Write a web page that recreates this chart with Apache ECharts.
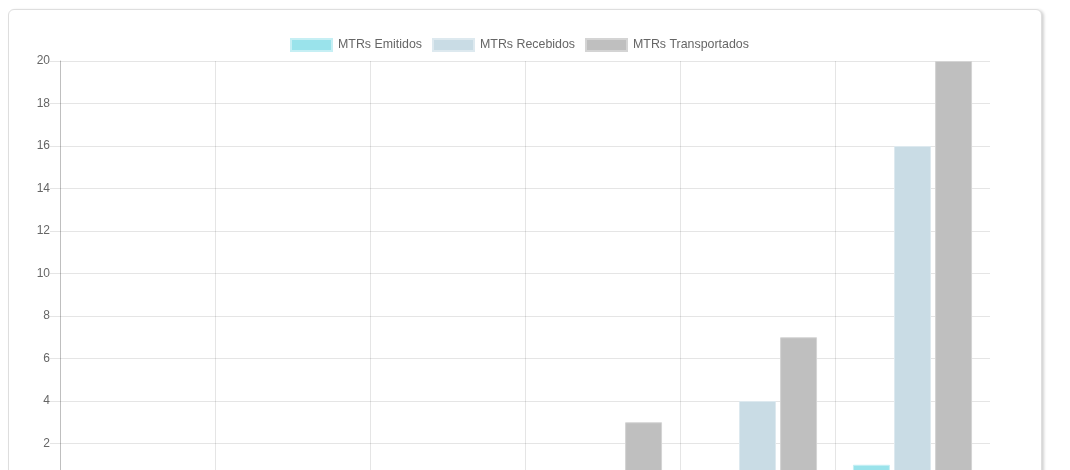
<!DOCTYPE html>
<html>
<head>
<meta charset="utf-8">
<script src="https://cdn.jsdelivr.net/npm/echarts@6/dist/echarts.min.js"></script>
<style>
  html, body { margin: 0; padding: 0; background: #fff; overflow: hidden; width: 1070px; height: 470px; }
  #card { position: absolute; left: 8px; top: 9px; width: 1032px; height: 600px; border: 1px solid #dedede; border-radius: 6px; box-shadow: 2px 1px 3px rgba(0,0,0,0.18); background: #fff; }
  #chart { position: absolute; left: 0; top: 0; width: 1070px; height: 600px; }
</style>
</head>
<body>
<div id="card"></div>
<div id="chart"></div>
<script>
// Category labels are below the visible area of the reference (placeholders)
const categories = ['Jan', 'Fev', 'Mar', 'Abr', 'Mai', 'Jun'];
const seriesNames = ['MTRs Emitidos', 'MTRs Recebidos', 'MTRs Transportados'];
const emitidos = [0, 0, 0, 0, 0, 1];
const recebidos = [0, 0, 0, 0, 4, 16];
const transportados = [0, 0, 0, 3, 7, 20];
const colors = ['#9ae3eb', '#c9dce5', '#bfbfbf'];
const borders = ['#c6eff4', '#dde9ef', '#d4d4d4'];

const chart = echarts.init(document.getElementById('chart'), null, { renderer: 'canvas' });
const font = '"Liberation Sans", Arial, Helvetica, sans-serif';
const values = [emitidos, recebidos, transportados];

chart.setOption({
  animation: false,
  textStyle: { fontFamily: font },
  legend: {
    left: 290, top: 38, padding: 0,
    itemWidth: 41, itemHeight: 12, itemGap: 10,
    icon: 'rect',
    textStyle: { color: '#666', fontSize: 12.4, fontFamily: font, padding: [0, 0, 0, 1] },
    data: seriesNames
  },
  grid: { left: 60, top: 61, width: 930, height: 425, containLabel: false },
  xAxis: {
    type: 'category',
    data: categories,
    boundaryGap: true,
    axisLine: { show: true, lineStyle: { color: 'rgba(0,0,0,0.25)' } },
    axisTick: { show: true, length: 10, lineStyle: { color: 'rgba(0,0,0,0.1)' } },
    axisLabel: { color: '#666', fontSize: 12, fontFamily: font },
    splitLine: { show: true, showMinLine: false, showMaxLine: false, lineStyle: { color: 'rgba(0,0,0,0.1)' } }
  },
  yAxis: {
    type: 'value',
    min: 0, max: 20, interval: 2,
    axisLine: { show: true, lineStyle: { color: 'rgba(0,0,0,0.25)' } },
    axisTick: { show: true, length: 10, lineStyle: { color: 'rgba(0,0,0,0.1)' } },
    axisLabel: { color: '#666', fontSize: 12, fontFamily: font, margin: 10 },
    splitLine: { show: true, lineStyle: { color: 'rgba(0,0,0,0.1)' } }
  },
  series: seriesNames.map((name, i) => ({
    name: name,
    type: 'bar',
    data: values[i],
    barWidth: 37,
    barGap: '11%',
    itemStyle: { color: colors[i], borderColor: borders[i], borderWidth: 1 }
  }))
});
</script>
</body>
</html>
